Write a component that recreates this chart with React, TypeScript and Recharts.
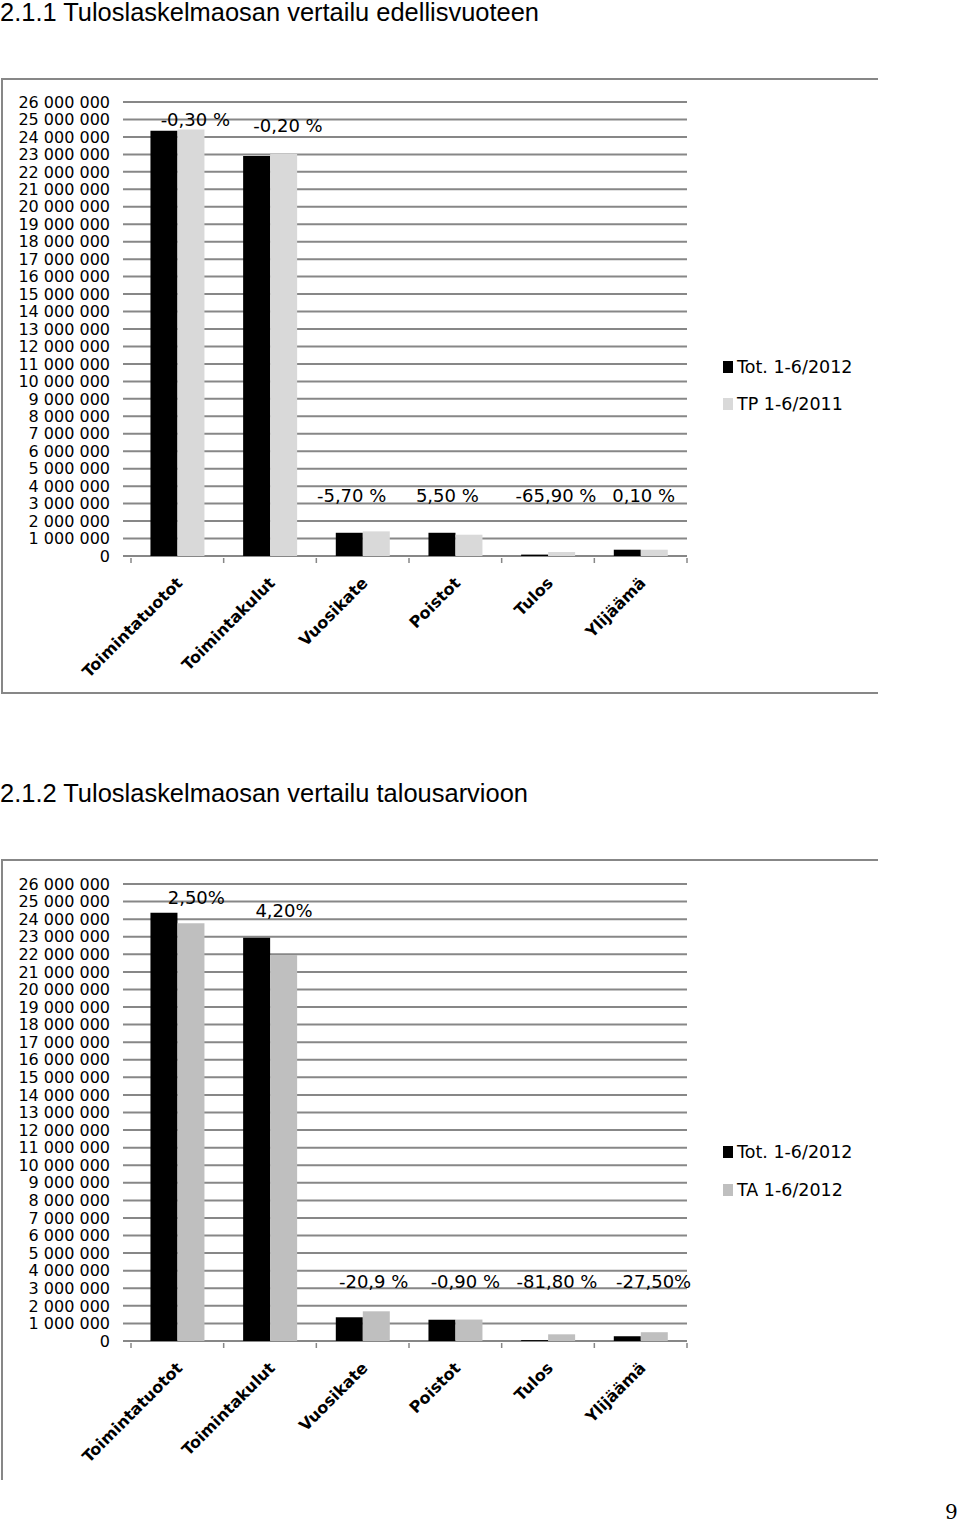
import React from 'react';
import { BarChart, Bar, XAxis, YAxis, CartesianGrid, ReferenceDot } from 'recharts';

const categories = ['Toimintatuotot', 'Toimintakulut', 'Vuosikate', 'Poistot', 'Tulos', 'Ylijäämä'];

// 2.1.1 vertailu edellisvuoteen
const tot2012 = [24350000, 22910000, 1330000, 1330000, 80000, 360000];
const tp2011 = [24420000, 23020000, 1410000, 1220000, 230000, 360000];
const changesPrev = ['-0,30 %', '-0,20 %', '-5,70 %', '5,50 %', '-65,90 %', '0,10 %'];

// 2.1.2 vertailu talousarvioon
const tot2012b = [24360000, 22940000, 1350000, 1210000, 50000, 270000];
const ta2012 = [23760000, 21960000, 1690000, 1220000, 380000, 500000];
const changesBudget = ['2,50%', '4,20%', '-20,9 %', '-0,90 %', '-81,80 %', '-27,50%'];

const yTicks = [
  0, 1000000, 2000000, 3000000, 4000000, 5000000, 6000000, 7000000, 8000000, 9000000,
  10000000, 11000000, 12000000, 13000000, 14000000, 15000000, 16000000, 17000000, 18000000,
  19000000, 20000000, 21000000, 22000000, 23000000, 24000000, 25000000, 26000000,
];

// where each percentage note sits: y in data units, dx in px from category centre
const notePlacePrev = [
  { y: 24970000, dx: 18 },
  { y: 24630000, dx: 18 },
  { y: 3440000, dx: -11 },
  { y: 3440000, dx: -8 },
  { y: 3440000, dx: 8 },
  { y: 3440000, dx: 3 },
];
const notePlaceBudget = [
  { y: 25230000, dx: 19 },
  { y: 24490000, dx: 14 },
  { y: 3410000, dx: 11 },
  { y: 3410000, dx: 10 },
  { y: 3410000, dx: 9 },
  { y: 3410000, dx: 13 },
];

const FONT = "'DejaVu Sans', sans-serif";
const GRID = '#878787';

const fmt = (v: number) => String(v).replace(/\B(?=(\d{3})+(?!\d))/g, ' ');

function CatTick(props: any) {
  const { x, y, payload } = props;
  const half = payload?.offset ?? 0;
  return (
    <g>
      {payload.index === 0 && (
        <line x1={x - half} x2={x - half} y1={y + 2} y2={y + 7} stroke={GRID} strokeWidth={1.5} />
      )}
      <line x1={x + half} x2={x + half} y1={y + 2} y2={y + 7} stroke={GRID} strokeWidth={1.5} />
      <text
        x={x + 6}
        y={y + 28}
        transform={`rotate(-45 ${x + 6} ${y + 28})`}
        textAnchor="end"
        fontFamily={FONT}
        fontWeight="bold"
        fontSize={16}
        fill="#000"
      >
        {payload.value}
      </text>
    </g>
  );
}

function NoteLabel(props: any) {
  const vb = props.viewBox || {};
  const cx = (vb.x ?? 0) + (vb.width ?? 0) / 2;
  const cy = (vb.y ?? 0) + (vb.height ?? 0) / 2;
  return (
    <text
      x={cx + props.dx}
      y={cy}
      textAnchor="middle"
      dominantBaseline="central"
      fontFamily={FONT}
      fontSize={18}
      fill="#000"
    >
      {props.text}
    </text>
  );
}

interface CompareProps {
  top: number;
  height: number;
  marginTop: number;
  current: number[];
  reference: number[];
  refColor: string;
  notes: string[];
  notePlace: { y: number; dx: number }[];
  legend: [string, string];
  legendY: [number, number];
}

function CompareChart(p: CompareProps) {
  const data = categories.map((name, i) => ({ name, a: p.current[i], b: p.reference[i] }));
  return (
    <>
      <div style={{ position: 'absolute', left: 0, top: p.top }}>
        <BarChart
          width={876}
          height={p.height}
          data={data}
          margin={{ top: p.marginTop, right: 189, left: 0, bottom: 17 }}
          barCategoryGap="21%"
          barGap={0}
        >
          <CartesianGrid vertical={false} stroke={GRID} strokeWidth={2} />
          <XAxis
            dataKey="name"
            height={120}
            padding={{ left: 8, right: 0 }}
            axisLine={false}
            tickLine={false}
            tickSize={0}
            tickMargin={0}
            interval={0}
            tick={<CatTick />}
          />
          <YAxis
            width={123}
            domain={[0, 26000000]}
            ticks={yTicks}
            interval={0}
            axisLine={false}
            tickLine={false}
            tickSize={0}
            tickMargin={13}
            tickFormatter={fmt}
            tick={{ fontFamily: FONT, fontSize: 16, fill: '#000' }}
          />
          <Bar dataKey="a" fill="#000000" isAnimationActive={false} />
          <Bar dataKey="b" fill={p.refColor} isAnimationActive={false} />
          {p.notes.map((t, i) => (
            <ReferenceDot
              key={t + i}
              x={categories[i]}
              y={p.notePlace[i].y}
              r={0}
              fill="none"
              stroke="none"
              label={<NoteLabel text={t} dx={p.notePlace[i].dx} />}
            />
          ))}
        </BarChart>
      </div>
      {p.legend.map((name, i) => (
        <div
          key={name}
          style={{
            position: 'absolute',
            left: 723,
            top: p.legendY[i] - 11,
            height: 22,
            display: 'flex',
            alignItems: 'center',
            fontFamily: FONT,
            fontSize: 17.5,
            color: '#000',
            whiteSpace: 'nowrap',
          }}
        >
          <span
            style={{
              display: 'inline-block',
              width: 10,
              height: 12,
              background: i === 0 ? '#000' : p.refColor,
              marginRight: 4,
            }}
          />
          {name}
        </div>
      ))}
    </>
  );
}

function Heading({ text, top, width }: { text: string; top: number; width: number }) {
  return (
    <svg style={{ position: 'absolute', left: 0, top }} width={600} height={30}>
      <text
        x={0}
        y={24}
        textLength={width}
        lengthAdjust="spacingAndGlyphs"
        fontFamily="'Liberation Sans', Arial, sans-serif"
        fontSize={26}
        fill="#000"
      >
        {text}
      </text>
    </svg>
  );
}

export default function App() {
  return (
    <div style={{ position: 'absolute', left: 0, top: 0, width: 960, height: 1527, background: '#fff' }}>
      <Heading text="2.1.1 Tuloslaskelmaosan vertailu edellisvuoteen" top={-3} width={539} />
      <div
        style={{
          position: 'absolute',
          left: 1,
          top: 78,
          width: 875,
          height: 612,
          borderTop: `2px solid ${GRID}`,
          borderLeft: `2px solid ${GRID}`,
          borderBottom: `2px solid ${GRID}`,
        }}
      />
      <CompareChart
        top={79}
        height={614}
        marginTop={23}
        current={tot2012}
        reference={tp2011}
        refColor="#d9d9d9"
        notes={changesPrev}
        notePlace={notePlacePrev}
        legend={['Tot. 1-6/2012', 'TP 1-6/2011']}
        legendY={[367, 404]}
      />

      <Heading text="2.1.2 Tuloslaskelmaosan vertailu talousarvioon" top={778} width={528} />
      <div
        style={{
          position: 'absolute',
          left: 1,
          top: 859,
          width: 875,
          height: 619,
          borderTop: `2px solid ${GRID}`,
          borderLeft: `2px solid ${GRID}`,
        }}
      />
      <CompareChart
        top={860}
        height={618}
        marginTop={24}
        current={tot2012b}
        reference={ta2012}
        refColor="#bfbfbf"
        notes={changesBudget}
        notePlace={notePlaceBudget}
        legend={['Tot. 1-6/2012', 'TA 1-6/2012']}
        legendY={[1152, 1190]}
      />

      <div
        style={{
          position: 'absolute',
          left: 945,
          top: 1500,
          fontFamily: "'DejaVu Serif', serif",
          fontSize: 20,
          color: '#000',
        }}
      >
        9
      </div>
    </div>
  );
}
